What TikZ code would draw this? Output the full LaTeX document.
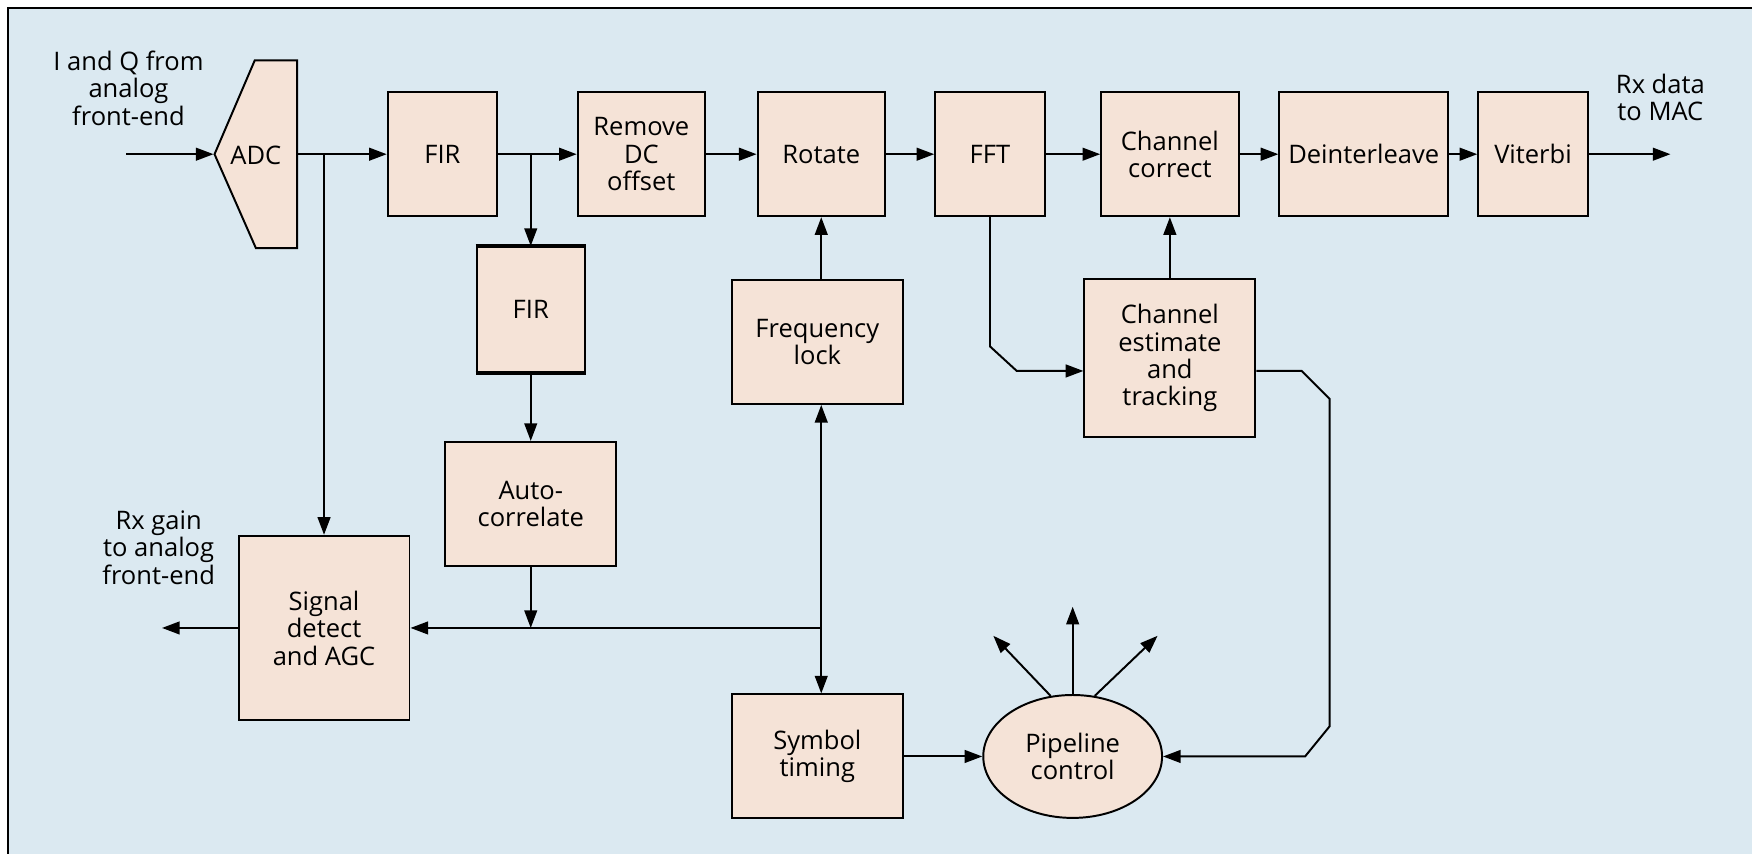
\documentclass[tikz,border=0pt]{standalone}
\usepackage{fontspec}
\setmainfont{Open Sans}
\usetikzlibrary{arrows.meta,shapes.geometric}
\definecolor{bgblue}{RGB}{219,233,241}
\definecolor{boxfill}{RGB}{245,227,215}

\begin{document}
\begin{tikzpicture}[x=0.2mm, y=-0.2mm, line width=1pt,
            >={Triangle[length=9pt,width=6.5pt]},
            blk/.style={draw, fill=boxfill, minimum height=2.22cm, inner sep=0pt,
                align=center, font=\fontsize{13}{14}\selectfont},
            lbl/.style={align=center, inner sep=0pt, font=\fontsize{13}{14}\selectfont}]
            \useasboundingbox (0,0) rectangle (1568,764);
            \fill[bgblue] (7,7) rectangle (1568,764);
            \draw (7,764) -- (7,7) -- (1568,7);

            \draw[fill=boxfill] (192,138) -- (228,54) -- (266,54) -- (266,222) -- (229,222) -- cycle;
            \node[lbl, minimum width=1.48cm, minimum height=3.36cm] (adc) at (229,139) {ADC};
            \node[blk, minimum width=1.96cm] (fir)   at (396,138)    {FIR};
            \node[blk, minimum width=2.28cm] (dc)    at (574,138)    {Remove\\DC\\offset};
            \node[blk, minimum width=2.28cm] (rot)   at (735,138)    {Rotate};
            \node[blk, minimum width=1.96cm] (fft)   at (886,138)    {FFT};
            \node[blk, minimum width=2.46cm] (chc)   at (1047,138)   {Channel\\correct};
            \node[blk, minimum width=3.02cm] (deint) at (1220.5,138) {Deinterleave};
            \node[blk, minimum width=1.96cm] (vit)   at (1372,138)   {Viterbi};

            \node[blk, minimum width=1.94cm, minimum height=2.24cm] (fir2) at (475,277) {FIR};
            \draw[line width=2pt] (fir2.north west) -- (fir2.north east);
            \draw[line width=2pt] (fir2.south west) -- (fir2.south east);
            \node[blk, minimum width=3.06cm] (flock) at (731.5,306) {Frequency\\lock};
            \node[blk, minimum width=3.06cm, minimum height=2.82cm] (che) at (1047,320.5) {Channel\\estimate\\and\\tracking};
            \node[blk, minimum width=3.06cm] (auto) at (475,451) {Auto-\\correlate};
            \node[blk, minimum width=3.06cm, minimum height=3.3cm] (sig) at (290,562) {Signal\\detect\\and AGC};
            \node[blk, minimum width=3.06cm] (sym) at (731.5,677) {Symbol\\timing};
            \node[blk, ellipse, minimum width=3.2cm, minimum height=2.2cm] (pipe) at (960,677) {Pipeline\\control};

            \node[lbl] (iq)   at (115,79)  {I and Q from\\analog\\front-end};
            \node[lbl] (gain) at (142,490) {Rx gain\\to analog\\front-end};
            \node[lbl] (rx)   at (1486,87) {Rx data\\to MAC};

            \coordinate (inp) at (113,138);
            \coordinate (rxout) at (1495,138);
            \coordinate (gainout) at (145,562);
            \coordinate (j1) at (290,138);
            \coordinate (j2) at (475,138);
            \coordinate (j3) at (475,562);
            \coordinate (j4) at (735,562);
            \coordinate (b1) at (886,310);
            \coordinate (b2) at (910,332);
            \coordinate (c1) at (1165,332);
            \coordinate (c2) at (1190,357);
            \coordinate (c3) at (1190,650);
            \coordinate (c4) at (1168,677);
            \coordinate (p1) at (889,569);
            \coordinate (p2) at (960,543);
            \coordinate (p3) at (1036,569);

            \draw[->] (inp) -- (adc.west |- inp);
            \draw[->] (adc.east |- inp) -- (fir);
            \draw[->] (fir) -- (dc);
            \draw[->] (dc) -- (rot);
            \draw[->] (rot) -- (fft);
            \draw[->] (fft) -- (chc);
            \draw[->] (chc) -- (deint);
            \draw[->] (deint) -- (vit);
            \draw[->] (vit) -- (rxout);

            \draw[->] (j1) -- (sig);
            \draw[->] (j2) -- (fir2);
            \draw[->] (fir2) -- (auto);
            \draw[->] (auto) -- (j3);
            \draw[->] (j4) -- (sig);
            \draw[->] (j4) -- (j4 |- flock.south);
            \draw[->] (j4) -- (j4 |- sym.north);
            \draw[->] (sig) -- (gainout);
            \draw[->] (flock.north -| rot) -- (rot);
            \draw[->] (che) -- (chc);
            \draw[->] (fft) -- (b1) -- (b2) -- (che.west |- b2);
            \draw[->] (che.east |- b2) -- (c1) -- (c2) -- (c3) -- (c4) -- (pipe);
            \draw[->] (sym) -- (pipe);
            \draw[->] (pipe.110) -- (p1);
            \draw[->] (pipe.north) -- (p2);
            \draw[->] (pipe.70) -- (p3);
\end{tikzpicture}
\end{document}
